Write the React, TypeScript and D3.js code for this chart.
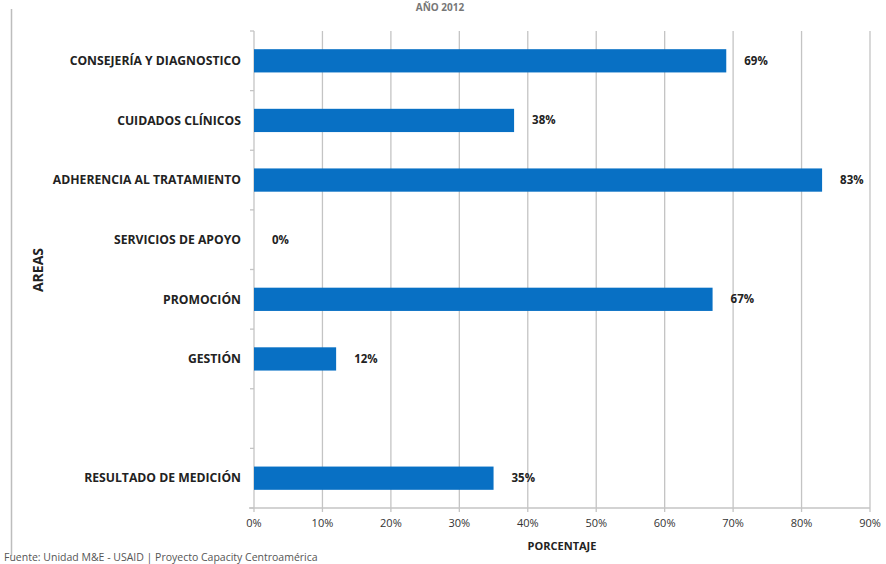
import React from "react";
import * as d3 from "d3";

const categories = [
  "CONSEJERÍA Y DIAGNOSTICO",
  "CUIDADOS CLÍNICOS",
  "ADHERENCIA AL TRATAMIENTO",
  "SERVICIOS DE APOYO",
  "PROMOCIÓN",
  "GESTIÓN",
  "",
  "RESULTADO DE MEDICIÓN",
];
const values: (number | null)[] = [69, 38, 83, 0, 67, 12, null, 35];
const xTicks = [0, 10, 20, 30, 40, 50, 60, 70, 80, 90];

const W = 886;
const H = 564;
const left = 254;
const right = 870;
const top = 31;
const bottom = 508;
const font = "'Open Sans', 'DejaVu Sans', sans-serif";

export default function App() {
  const x = d3.scaleLinear().domain([0, 90]).range([left, right]);
  const y = d3
    .scaleBand<number>()
    .domain(categories.map((_, i) => i))
    .range([top, bottom])
    .paddingInner(0.61)
    .paddingOuter(0.305);
  const step = y.step();
  const boundaries = d3.range(categories.length + 1).map((i) => top + i * step);

  return (
    <svg
      width={W}
      height={H}
      style={{ position: "absolute", left: 0, top: 0, background: "#fff" }}
    >
      <text
        x={440}
        y={11}
        textAnchor="middle"
        fontFamily={font}
        fontWeight="bold"
        fontSize={10}
        fill="#777"
      >
        AÑO 2012
      </text>
      <line x1={11.5} x2={11.5} y1={9} y2={556} stroke="#bdbdbd" strokeWidth={1.5} />
      {xTicks.map((t) => (
        <line
          key={"g" + t}
          x1={x(t)}
          x2={x(t)}
          y1={top}
          y2={bottom + 4}
          stroke="#c4c4c4"
          strokeWidth={1.3}
        />
      ))}
      <line x1={left - 5} x2={right} y1={bottom} y2={bottom} stroke="#c4c4c4" strokeWidth={1.3} />
      {boundaries.map((b, i) => (
        <line key={"t" + i} x1={left - 4} x2={left} y1={b} y2={b} stroke="#c4c4c4" strokeWidth={1.3} />
      ))}
      {categories.map((c, i) =>
        values[i] === null ? null : (
          <g key={"b" + i}>
            <rect
              x={x(0)}
              y={y(i)!}
              width={x(values[i] as number) - x(0)}
              height={y.bandwidth()}
              fill="#0870c4"
            />
            <text
              x={x(values[i] as number) + 18}
              y={y(i)! + y.bandwidth() / 2}
              dy="0.35em"
              fontFamily={font}
              fontWeight="bold"
              fontSize={11.5}
              fill="#222"
            >
              {values[i]}%
            </text>
          </g>
        )
      )}
      {categories.map((c, i) => (
        <text
          key={"c" + i}
          x={241}
          y={y(i)! + y.bandwidth() / 2}
          dy="0.35em"
          textAnchor="end"
          fontFamily={font}
          fontWeight="bold"
          fontSize={12.2}
          fill="#222"
        >
          {c}
        </text>
      ))}
      {xTicks.map((t) => (
        <text
          key={"x" + t}
          x={x(t)}
          y={527}
          textAnchor="middle"
          fontFamily={font}
          fontSize={11}
          fill="#333"
        >
          {t}%
        </text>
      ))}
      <text
        x={562}
        y={550}
        textAnchor="middle"
        fontFamily={font}
        fontWeight="bold"
        fontSize={11}
        fill="#222"
      >
        PORCENTAJE
      </text>
      <text
        transform={`translate(43,270) rotate(-90)`}
        textAnchor="middle"
        fontFamily={font}
        fontWeight="bold"
        fontSize={14}
        fill="#222"
      >
        AREAS
      </text>
      <text x={4} y={561} fontFamily={font} fontSize={10.5} fill="#555">
        Fuente: Unidad M&amp;E - USAID | Proyecto Capacity Centroamérica
      </text>
    </svg>
  );
}
